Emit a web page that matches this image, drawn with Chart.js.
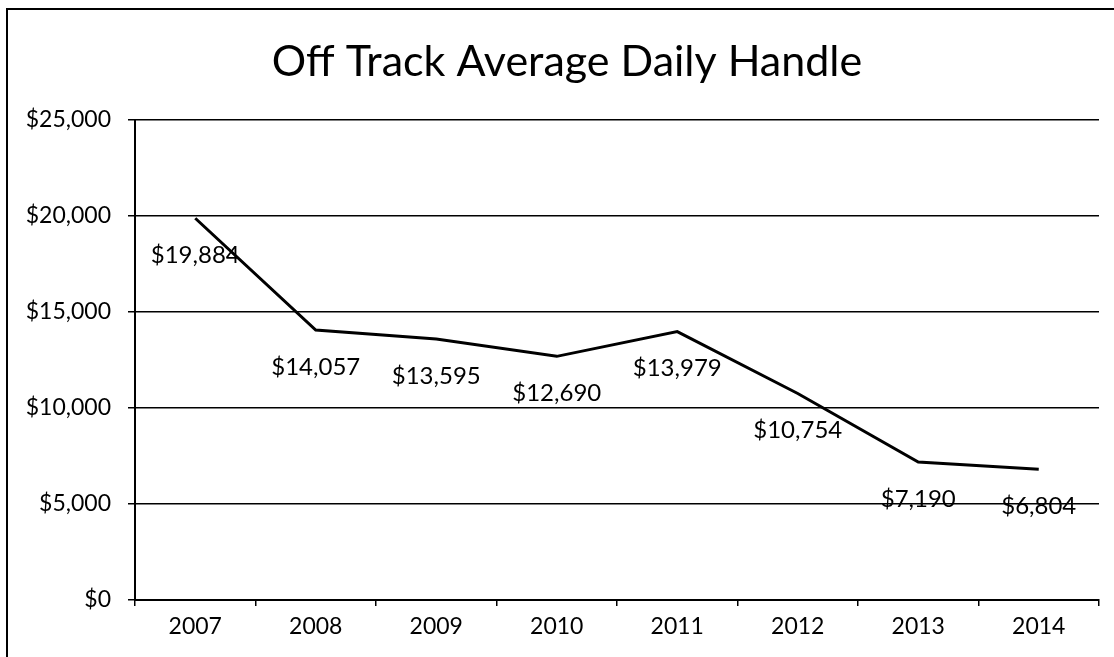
<!DOCTYPE html>
<html>
<head>
<meta charset="utf-8">
<script src="https://cdn.jsdelivr.net/npm/chart.js@4/dist/chart.umd.min.js"></script>
<style>
  body { margin: 0; background: #fff; }
  #frame {
    position: absolute; left: 6px; top: 8px;
    width: 1106px; height: 649px;
    border-left: 2px solid #000; border-top: 2px solid #000;
  }
  canvas { display: block; }
</style>
</head>
<body>
<div id="frame"><canvas id="chart" width="1106" height="649"></canvas></div>
<script>
var chartTitle = 'Off Track Average Daily Handle';
var years = ['2007', '2008', '2009', '2010', '2011', '2012', '2013', '2014'];
var handle = [19884, 14057, 13595, 12690, 13979, 10754, 7190, 6804];
var yTicks = [0, 5000, 10000, 15000, 20000, 25000];

function money(v) {
    return '$' + v.toLocaleString('en-US');
}

// value labels under each point, like the Excel "below" labels
var belowLabels = {
    id: 'belowLabels',
    afterDatasetsDraw: function(chart) {
        var c = chart.ctx;
        var meta = chart.getDatasetMeta(0);
        c.save();
        c.font = '24px Lato';
        c.fillStyle = '#000';
        c.textAlign = 'center';
        c.textBaseline = 'middle';
        meta.data.forEach(function(pt, i) {
            c.fillText(money(handle[i]), pt.x, pt.y + 37);
        });
        c.restore();
    }
};

// title sits a little right of the canvas centre in the original
var offsetTitle = {
    id: 'offsetTitle',
    afterDraw: function(chart) {
        var c = chart.ctx;
        var area = chart.chartArea;
        c.save();
        c.font = '43px Lato';
        c.fillStyle = '#000';
        c.textAlign = 'center';
        c.textBaseline = 'middle';
        c.fillText(chartTitle, (area.left + area.right) / 2 - 50, 52);
        c.restore();
    }
};

var ctx = document.getElementById('chart').getContext('2d');

var myChart = new Chart(ctx, {
    type: 'line',
    data: {
        labels: years,
        datasets: [{
            data: handle,
            borderColor: '#000',
            borderWidth: 3,
            pointRadius: 0,
            tension: 0,
            fill: false
        }]
    },
    options: {
        responsive: false,
        animation: false,
        layout: { padding: { top: 110, right: 15, left: 0, bottom: 0 } },
        plugins: {
            legend: { display: false },
            tooltip: { enabled: false },
            title: { display: false }
        },
        scales: {
            x: {
                offset: true,
                border: { color: '#000', width: 2 },
                grid: { offset: true, drawOnChartArea: false, drawTicks: true, tickLength: 6, color: '#000', lineWidth: 1.5 },
                ticks: { color: '#000', padding: 7, font: { family: 'Lato', size: 23 } },
                afterFit: function(scale) { scale.height = 59; }
            },
            y: {
                min: 0,
                max: 25000,
                border: { color: '#000', width: 2 },
                grid: { color: '#000', lineWidth: 1.5, tickLength: 7 },
                afterBuildTicks: function(scale) {
                    scale.ticks = yTicks.map(function(v) { return { value: v }; });
                },
                ticks: {
                    color: '#000',
                    padding: 17,
                    font: { family: 'Lato', size: 23 },
                    callback: function(v) { return money(v); }
                },
                afterFit: function(scale) { scale.width = 127; }
            }
        }
    },
    plugins: [belowLabels, offsetTitle]
});
</script>
</body>
</html>
